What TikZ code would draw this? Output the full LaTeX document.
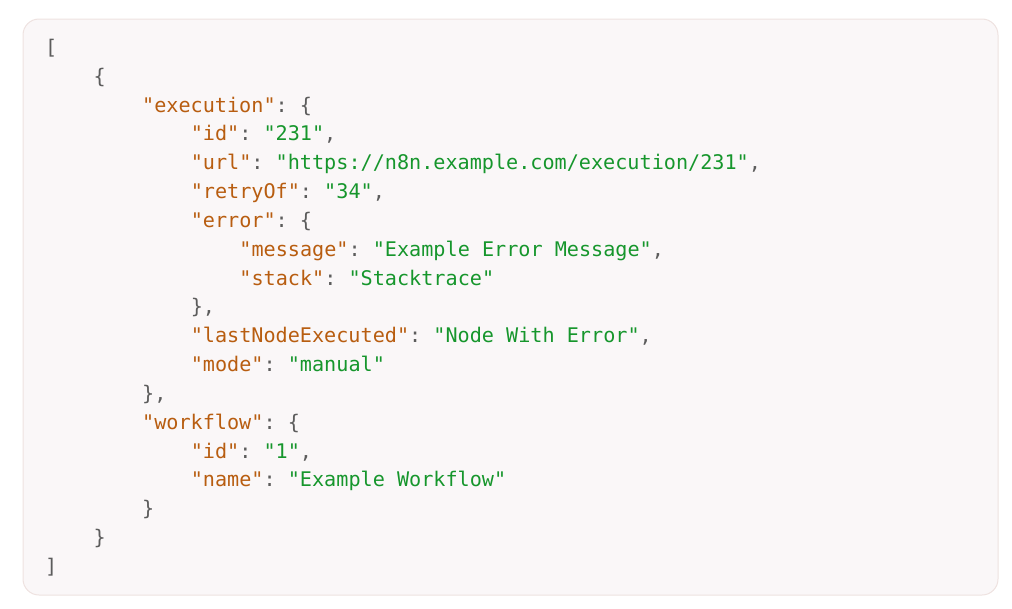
\documentclass[tikz,border=0pt]{standalone}
\usepackage{fontspec}
\setmonofont{DejaVu Sans Mono}
\definecolor{keyc}{HTML}{B85D10}
\definecolor{strc}{HTML}{16962C}
\definecolor{punc}{HTML}{5C5C5C}
\definecolor{boxfill}{HTML}{FAF7F8}
\definecolor{boxline}{HTML}{EEE2E0}
\newcommand{\jk}[1]{\textcolor{keyc}{#1}}
\newcommand{\js}[1]{\textcolor{strc}{#1}}
\begin{document}
\begin{tikzpicture}[x=1pt,y=-1pt,
  codeline/.style={anchor=base west,inner sep=0pt,outer sep=0pt,text=punc,font=\ttfamily\fontsize{20.15}{24}\selectfont}]
\useasboundingbox (0,0) rectangle (1012,608);
\node[draw=boxline,fill=boxfill,line width=1pt,rounded corners=16pt,minimum width=975pt,minimum height=576pt,inner sep=0pt,anchor=north west] (box) at (22.5,18.5) {};
\def\lh{28.83}
\def\ind{48.6}
\def\xo{45}
\def\yo{54.4}
\node[codeline] (l1) at (\xo,\yo) {[};
\node[codeline] (l2) at (\xo+\ind,\yo+\lh) {\{};
\node[codeline] (l3) at (\xo+2*\ind,\yo+2*\lh) {\jk{"execution"}: \{};
\node[codeline] (l4) at (\xo+3*\ind,\yo+3*\lh) {\jk{"id"}: \js{"231"},};
\node[codeline] (l5) at (\xo+3*\ind,\yo+4*\lh) {\jk{"url"}: \js{"https://n8n.example.com/execution/231"},};
\node[codeline] (l6) at (\xo+3*\ind,\yo+5*\lh) {\jk{"retryOf"}: \js{"34"},};
\node[codeline] (l7) at (\xo+3*\ind,\yo+6*\lh) {\jk{"error"}: \{};
\node[codeline] (l8) at (\xo+4*\ind,\yo+7*\lh) {\jk{"message"}: \js{"Example Error Message"},};
\node[codeline] (l9) at (\xo+4*\ind,\yo+8*\lh) {\jk{"stack"}: \js{"Stacktrace"}};
\node[codeline] (l10) at (\xo+3*\ind,\yo+9*\lh) {\},};
\node[codeline] (l11) at (\xo+3*\ind,\yo+10*\lh) {\jk{"lastNodeExecuted"}: \js{"Node With Error"},};
\node[codeline] (l12) at (\xo+3*\ind,\yo+11*\lh) {\jk{"mode"}: \js{"manual"}};
\node[codeline] (l13) at (\xo+2*\ind,\yo+12*\lh) {\},};
\node[codeline] (l14) at (\xo+2*\ind,\yo+13*\lh) {\jk{"workflow"}: \{};
\node[codeline] (l15) at (\xo+3*\ind,\yo+14*\lh) {\jk{"id"}: \js{"1"},};
\node[codeline] (l16) at (\xo+3*\ind,\yo+15*\lh) {\jk{"name"}: \js{"Example Workflow"}};
\node[codeline] (l17) at (\xo+2*\ind,\yo+16*\lh) {\}};
\node[codeline] (l18) at (\xo+\ind,\yo+17*\lh) {\}};
\node[codeline] (l19) at (\xo,\yo+18*\lh) {]};
\end{tikzpicture}
\end{document}
